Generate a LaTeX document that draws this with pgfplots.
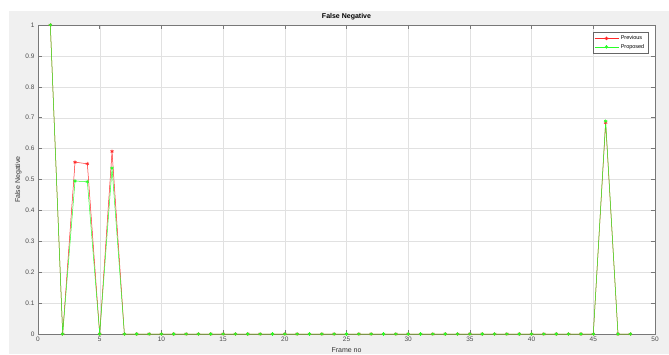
\documentclass[border=0pt]{standalone}
\usepackage{fontspec}
\setmainfont{Liberation Sans}
\usepackage{pgfplots}
\usepackage{pgfplotstable}
\pgfplotsset{compat=1.18}
\definecolor{figbg}{RGB}{240,240,240}
\definecolor{axgray}{RGB}{120,120,120}
\definecolor{gridgray}{RGB}{225,225,225}
\definecolor{prevred}{RGB}{255,40,40}
\definecolor{propgreen}{RGB}{40,255,40}
\pgfplotstableread{
x prev prop
1 1 1
2 0 0
3 0.556 0.495
4 0.551 0.493
5 0 0
6 0.591 0.537
7 0 0
8 0 0
9 0 0
10 0 0
11 0 0
12 0 0
13 0 0
14 0 0
15 0 0
16 0 0
17 0 0
18 0 0
19 0 0
20 0 0
21 0 0
22 0 0
23 0 0
24 0 0
25 0 0
26 0 0
27 0 0
28 0 0
29 0 0
30 0 0
31 0 0
32 0 0
33 0 0
34 0 0
35 0 0
36 0 0
37 0 0
38 0 0
39 0 0
40 0 0
41 0 0
42 0 0
43 0 0
44 0 0
45 0 0
46 0.684 0.689
47 0 0
48 0 0
}\datatable
\begin{document}
\begin{tikzpicture}[x=1pt,y=1pt]
\path[use as bounding box, fill=white] (0,0) rectangle (669,354);
\fill[figbg] (9,0) rectangle (669,343);
\begin{axis}[
  at={(38pt,20pt)}, anchor=south west,
  scale only axis, width=617pt, height=309pt,
  xmin=0, xmax=50, ymin=0, ymax=1,
  xtick={0,5,10,15,20,25,30,35,40,45,50},
  ytick={0,0.1,0.2,0.3,0.4,0.5,0.6,0.7,0.8,0.9,1},
  yticklabels={0,0.1,0.2,0.3,0.4,0.5,0.6,0.7,0.8,0.9,1},
  axis background/.style={fill=white},
  axis line style={axgray, line width=0.5pt},
  tick style={axgray, line width=0.5pt},
  tick align=inside,
  major tick length=4pt,
  grid=major,
  major grid style={gridgray, line width=0.4pt},
  /pgf/number format/assume math mode=true,
  tick label style={font=\fontsize{6.5}{7}\selectfont, text=black!70},
  xticklabel style={yshift=1pt},
  title={False Negative},
  title style={at={(axis description cs:0.5,1)}, anchor=base, yshift=0pt, font=\bfseries\fontsize{7}{8}\selectfont},
  xlabel={Frame no},
  xlabel style={at={(axis description cs:0.5,-0.052)}, anchor=center, font=\fontsize{7}{8}\selectfont, text=black!80},
  ylabel={False Negative},
  ylabel style={at={(axis description cs:-0.032,0.5)}, anchor=center, font=\fontsize{7}{8}\selectfont, text=black!80},
  legend style={at={(axis description cs:1,1)}, anchor=north east, xshift=-7pt, yshift=-7pt,
    font=\fontsize{5.5}{6}\selectfont, draw=black!60, line width=0.4pt, inner sep=1.5pt, row sep=-1pt},
  legend cell align=left,
  legend image code/.code={\draw[mark repeat=2,mark phase=2] plot coordinates {(0pt,0pt)(12pt,0pt)(24pt,0pt)};},
]
\addplot[prevred, line width=0.5pt, mark=asterisk, mark size=1.8pt, mark options={line width=0.6pt}] table[x=x, y=prev] {\datatable};
\addlegendentry{Previous}
\addplot[propgreen, line width=0.5pt, mark=asterisk, mark size=1.8pt, mark options={line width=0.6pt}] table[x=x, y=prop] {\datatable};
\addlegendentry{Proposed}
\end{axis}
\end{tikzpicture}
\end{document}
